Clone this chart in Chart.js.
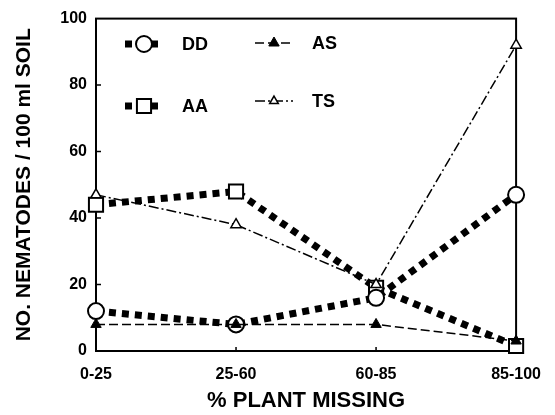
<!DOCTYPE html>
<html>
<head>
<meta charset="utf-8">
<script src="https://cdn.jsdelivr.net/npm/chart.js@4"></script>
<style>
  html, body { margin: 0; padding: 0; background: #fff; }
  #wrap { width: 555px; height: 415px; }
</style>
</head>
<body>
<div id="wrap"><canvas id="Chart" width="555" height="415"></canvas></div>
<script>
 // nematode counts by % plant missing
 const categories = ['0-25', '25-60', '60-85', '85-100'];
 const ddValues = [12, 8, 16, 47];
 const aaValues = [44, 48, 19, 1.5];
 const asValues = [8, 8, 8, 3];
 const tsValues = [47, 38, 20, 92];
 const yTicks = [0, 20, 40, 60, 80, 100];

 const FONT = "'Liberation Sans', Arial, sans-serif";

 // frame, inside tick marks and the legend box
 const framePlugin = {
   id: 'frame',
   beforeDatasetsDraw(chart) {
     const { ctx, chartArea: a, scales } = chart;
     ctx.save();
     ctx.strokeStyle = '#000';
     ctx.lineWidth = 2;
     ctx.strokeRect(a.left, a.top, a.right - a.left, a.bottom - a.top);
     ctx.lineWidth = 1.5;
     ctx.beginPath();
     yTicks.slice(1, -1).forEach(v => {
       const y = scales.y.getPixelForValue(v);
       ctx.moveTo(a.left, y);
       ctx.lineTo(a.left + 5, y);
     });
     categories.slice(1, -1).forEach((c, i) => {
       const x = scales.x.getPixelForValue(i + 1);
       ctx.moveTo(x, a.bottom);
       ctx.lineTo(x, a.bottom - 4);
     });
     ctx.stroke();
     ctx.restore();
   },
   afterDraw(chart) {
     const { ctx } = chart;
     const items = [
       { ds: 2, x: 125, y: 44 },
       { ds: 3, x: 125, y: 106 },
       { ds: 0, x: 255, y: 43 },
       { ds: 1, x: 255, y: 101 }
     ];
     ctx.save();
     items.forEach(it => {
       const d = chart.data.datasets[it.ds];
       ctx.strokeStyle = '#000';
       ctx.lineWidth = d.borderWidth;
       ctx.setLineDash(d.borderDash);
       ctx.beginPath();
       ctx.moveTo(it.x, it.y);
       ctx.lineTo(it.x + 38, it.y);
       ctx.stroke();
       ctx.setLineDash([]);
       ctx.fillStyle = d.pointBackgroundColor;
       ctx.lineWidth = d.pointBorderWidth;
       Chart.helpers.drawPoint(ctx, {
         pointStyle: d.pointStyle,
         radius: d.legendRadius,
         borderWidth: d.pointBorderWidth,
         rotation: 0
       }, it.x + 19, it.y);
       ctx.fillStyle = '#000';
       ctx.font = 'bold 18px ' + FONT;
       ctx.textBaseline = 'middle';
       ctx.fillText(d.label, it.x + 57, it.y + 1);
     });
     ctx.restore();
   }
 };

 const ctx = document.getElementById('Chart').getContext('2d');
 const myChart = new Chart(ctx, {
   type: 'line',
   data: {
     labels: categories,
     datasets: [
       {
         label: 'AS',
         data: asValues,
         borderColor: '#000',
         borderWidth: 1.5,
         borderDash: [9, 4],
         pointStyle: 'triangle',
         pointRadius: 6,
         legendRadius: 6,
         pointBackgroundColor: '#000',
         pointBorderColor: '#000',
         pointBorderWidth: 1,
         clip: false
       },
       {
         label: 'TS',
         data: tsValues,
         borderColor: '#000',
         borderWidth: 1.5,
         borderDash: [10, 3, 2, 3],
         pointStyle: 'triangle',
         pointRadius: 6,
         legendRadius: 5,
         pointBackgroundColor: '#fff',
         pointBorderColor: '#000',
         pointBorderWidth: 1.5,
         clip: false
       },
       {
         label: 'DD',
         data: ddValues,
         borderColor: '#000',
         borderWidth: 7,
         borderDash: [7, 6],
         pointStyle: 'circle',
         pointRadius: 8,
         legendRadius: 8,
         pointBackgroundColor: '#fff',
         pointBorderColor: '#000',
         pointBorderWidth: 2,
         clip: false
       },
       {
         label: 'AA',
         data: aaValues,
         borderColor: '#000',
         borderWidth: 7,
         borderDash: [7, 6],
         pointStyle: 'rect',
         pointRadius: 10,
         legendRadius: 10,
         pointBackgroundColor: '#fff',
         pointBorderColor: '#000',
         pointBorderWidth: 2,
         clip: false
       }
     ]
   },
   options: {
     responsive: false,
     animation: false,
     layout: { padding: { top: 14, right: 37, left: 0, bottom: 0 } },
     plugins: {
       legend: { display: false },
       tooltip: { enabled: false }
     },
     scales: {
       x: {
         offset: false,
         grid: { display: false, drawTicks: false },
         border: { display: false },
         ticks: {
           color: '#000',
           font: { family: FONT, size: 16, weight: 'bold' },
           padding: 14,
           maxRotation: 0
         },
         title: {
           display: true,
           text: '% PLANT MISSING',
           color: '#000',
           font: { family: FONT, size: 22, weight: 'bold' },
           padding: { top: 6, bottom: 1 }
         },
         afterFit(scale) { scale.height = 64; }
       },
       y: {
         min: 0,
         max: 100,
         grid: { display: false, drawTicks: false },
         border: { display: false },
         afterBuildTicks(scale) { scale.ticks = yTicks.map(v => ({ value: v })); },
         ticks: {
           color: '#000',
           font: { family: FONT, size: 16, weight: 'bold' },
           padding: 9
         },
         title: {
           display: true,
           text: 'NO. NEMATODES / 100 ml SOIL',
           color: '#000',
           font: { family: FONT, size: 21, weight: 'bold' },
           padding: { top: 12, bottom: 0 }
         },
         afterFit(scale) { scale.width = 96; }
       }
     }
   },
   plugins: [framePlugin]
 });
</script>
</body>
</html>
